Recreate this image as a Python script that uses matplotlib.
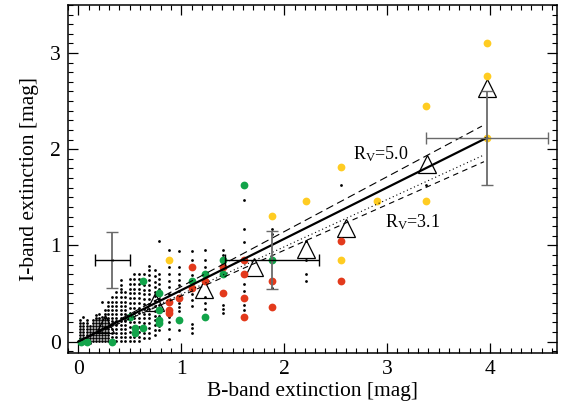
import matplotlib
matplotlib.use('Agg')
import matplotlib.pyplot as plt
from matplotlib.ticker import MultipleLocator

plt.rcParams['font.family'] = ['Liberation Serif', 'DejaVu Serif']
plt.rcParams['mathtext.fontset'] = 'custom'
plt.rcParams['mathtext.rm'] = 'Liberation Serif'
plt.rcParams['mathtext.it'] = 'Liberation Serif:italic'

# black points: one list of I values per B column
blk_cols = [0.02, 0.05, 0.08, 0.11, 0.14, 0.17, 0.20, 0.23, 0.26, 0.29,
            0.33, 0.37, 0.41, 0.455, 0.50, 0.545, 0.59, 0.64, 0.69, 0.74,
            0.78, 0.88, 0.98, 1.10, 1.23, 1.41, 1.61, 1.88, 2.21, 2.55, 3.38]
blk_vals = [
    [-0.02, 0.01, 0.04, 0.07, 0.10, 0.13, 0.16, 0.19, 0.22],
    [-0.02, 0.01, 0.04, 0.07, 0.10, 0.13, 0.16, 0.19, 0.26],
    [0.01, 0.04, 0.07, 0.10, 0.13, 0.16, 0.19, 0.22],
    [-0.02, 0.01, 0.04, 0.07, 0.10, 0.13, 0.16],
    [0.01, 0.04, 0.07, 0.10, 0.13, 0.16, 0.19, 0.22],
    [0.01, 0.04, 0.07, 0.10, 0.13, 0.16, 0.19, 0.22, 0.25, 0.28],
    [0.01, 0.04, 0.07, 0.10, 0.13, 0.16, 0.19, 0.22, 0.25, 0.29],
    [0.01, 0.04, 0.07, 0.10, 0.13, 0.16, 0.19, 0.22, 0.26, 0.41],
    [0.01, 0.04, 0.07, 0.10, 0.13, 0.16, 0.19, 0.22, 0.25, 0.29, 0.33],
    [0.01, 0.04, 0.07, 0.10, 0.13, 0.16, 0.19, 0.22, 0.25, 0.29, 0.33, 0.37, 0.41],
    [0.01, 0.05, 0.09, 0.13, 0.17, 0.21, 0.25, 0.29, 0.33, 0.37, 0.41, 0.46, 0.85],
    [0.01, 0.05, 0.09, 0.13, 0.17, 0.21, 0.25, 0.29, 0.33, 0.37, 0.41, 0.46, 0.51],
    [0.01, 0.05, 0.09, 0.13, 0.17, 0.21, 0.25, 0.29, 0.33, 0.37, 0.41, 0.46, 0.51, 0.55, 0.59, 0.64],
    [0.01, 0.05, 0.09, 0.13, 0.17, 0.21, 0.25, 0.29, 0.33, 0.37, 0.41, 0.46, 0.51],
    [0.01, 0.05, 0.10, 0.15, 0.20, 0.25, 0.30, 0.35, 0.40, 0.45, 0.50, 0.55, 0.60, 0.65],
    [0.01, 0.05, 0.10, 0.15, 0.20, 0.25, 0.30, 0.35, 0.40, 0.45, 0.50, 0.55, 0.60, 0.65, 0.70],
    [0.01, 0.05, 0.10, 0.15, 0.20, 0.25, 0.30, 0.35, 0.40, 0.45, 0.50, 0.55, 0.60, 0.65, 0.70],
    [0.04, 0.09, 0.14, 0.19, 0.24, 0.29, 0.34, 0.39, 0.44, 0.49, 0.54, 0.59, 0.64, 0.70],
    [0.04, 0.09, 0.14, 0.19, 0.24, 0.29, 0.34, 0.39, 0.44, 0.49, 0.54, 0.59, 0.64, 0.69, 0.74, 0.79],
    [0.07, 0.12, 0.17, 0.22, 0.27, 0.32, 0.37, 0.42, 0.47, 0.52, 0.57, 0.62, 0.68, 0.74],
    [0.12, 0.16, 0.27, 0.38, 0.44, 0.55, 0.60, 0.65, 0.70, 1.05],
    [0.03, 0.13, 0.20, 0.26, 0.49, 0.57, 0.63, 0.70, 0.77, 0.95],
    [0.12, 0.32, 0.36, 0.40, 0.53, 0.59, 0.64, 0.70, 0.77, 0.94],
    [0.09, 0.14, 0.18, 0.37, 0.43, 0.49, 0.69, 0.85, 0.94],
    [0.34, 0.40, 0.46, 0.77, 0.85, 0.95],
    [0.30, 0.34, 0.38, 0.90, 0.95],
    [0.33, 0.375, 0.53, 0.60, 1.04, 1.17, 1.47],
    [0.56, 1.12, 1.17],
    [0.63, 0.70, 0.85, 1.045],
    [1.63],
    [1.63],
]

yel_x = [0.88, 1.88, 2.21, 2.55, 2.55, 2.90, 3.38, 3.38, 3.97, 3.97, 3.97]
yel_y = [0.85, 1.31, 1.46, 1.82, 0.85, 1.46, 2.45, 1.46, 3.10, 2.76, 2.12]

red_x = [0.88, 0.88, 0.88, 0.98, 1.10, 1.10, 1.23, 1.41, 1.41,
         1.61, 1.61, 1.61, 1.61, 1.88, 1.88, 2.55, 2.55]
red_y = [0.41, 0.33, 0.30, 0.45, 0.77, 0.56, 0.63, 0.77, 0.50,
         0.85, 0.70, 0.45, 0.26, 0.63, 0.36, 1.045, 0.625]

grn_x = [0.03, 0.08, 0.33, 0.50, 0.55, 0.55, 0.63, 0.63, 0.78, 0.78,
         0.78, 0.78, 0.98, 1.10, 1.23, 1.23, 1.41, 1.41, 1.61, 1.88]
grn_y = [0.0, 0.0, 0.0, 0.26, 0.14, 0.09, 0.63, 0.14, 0.50, 0.33,
         0.225, 0.19, 0.225, 0.63, 0.70, 0.26, 0.85, 0.70, 1.63, 0.85]

# binned means
tri_x = [0.26, 0.74, 1.22, 1.71, 2.21, 2.60, 3.39, 3.97]
tri_y = [0.18, 0.41, 0.55, 0.78, 0.96, 1.18, 1.85, 2.64]

# error crosses
err_x = [0.33, 1.88, 3.97]
err_y = [0.85, 0.85, 2.12]
err_dx = [0.17, 0.46, 0.59]
err_dy = [0.29, 0.30, 0.49]

# reddening lines (start and end points)
fit_x = [0.0, 3.97]
fit_y = [0.0, 2.12]
rv50_x = [0.0, 3.92]
rv50_y = [0.0, 2.24]
rv31a_x = [0.0, 3.94]
rv31a_y = [0.0, 1.94]
rv31b_x = [0.0, 3.94]
rv31b_y = [0.0, 1.87]

fig = plt.figure(figsize=(5.74, 4.12), dpi=100)
ax = fig.add_axes([0.1185, 0.143, 0.852, 0.845])

# triangles go underneath the points
ax.plot(tri_x, tri_y, '^', markersize=13, markerfacecolor='none',
        markeredgecolor='black', markeredgewidth=0.9, zorder=1)

bx = []
by = []
for xc, ys in zip(blk_cols, blk_vals):
    for yv in ys:
        bx.append(xc)
        by.append(yv)
ax.plot(bx, by, 'o', color='black', markersize=2.0, markeredgewidth=0, zorder=2)

ax.plot(yel_x, yel_y, 'o', color='#FFCC22', markersize=5.6, markeredgewidth=0, zorder=3)
ax.plot(red_x, red_y, 'o', color='#E33A1C', markersize=5.6, markeredgewidth=0, zorder=3)
ax.plot(grn_x, grn_y, 'o', color='#12A44A', markersize=5.6, markeredgewidth=0, zorder=3)

ax.plot(fit_x, fit_y, '-', color='black', linewidth=1.6, zorder=4)
ax.plot(rv50_x, rv50_y, color='black', linewidth=0.8, dashes=(7, 4), zorder=4)
ax.plot(rv31a_x, rv31a_y, color='black', linewidth=0.8, dashes=(1, 2.5), zorder=4)
ax.plot(rv31b_x, rv31b_y, color='black', linewidth=0.8, dashes=(5, 4), zorder=4)

for i in range(len(err_x)):
    ax.errorbar(err_x[i], err_y[i], yerr=err_dy[i], fmt='none', ecolor='#6a6a6a',
                elinewidth=1.3, capsize=4, capthick=1.0, zorder=5)
    ax.errorbar(err_x[i], err_y[i], xerr=err_dx[i], fmt='none',
                ecolor='black' if i < 2 else '#6a6a6a',
                elinewidth=1.0, capsize=4, capthick=1.0, zorder=5)

ax.text(2.67, 1.89, r'R$_\mathrm{V}$=5.0', fontsize=13)
ax.text(2.98, 1.24, r'R$_\mathrm{V}$=3.1', fontsize=13, va='center')

ax.set_xlim(-0.1, 4.65)
ax.set_ylim(-0.12, 3.5)
ax.xaxis.set_major_locator(MultipleLocator(1))
ax.xaxis.set_minor_locator(MultipleLocator(0.1))
ax.yaxis.set_major_locator(MultipleLocator(1))
ax.yaxis.set_minor_locator(MultipleLocator(0.1))
ax.tick_params(which='both', direction='in', top=True, right=True, labelsize=15.5)
ax.tick_params(which='major', length=7.5, width=0.9, pad=5)
ax.tick_params(which='minor', length=3.8, width=0.8)
for s in ax.spines.values():
    s.set_linewidth(1.1)

ax.set_xlabel('B-band extinction [mag]', fontsize=15.5, labelpad=2)
ax.set_ylabel('I-band extinction [mag]', fontsize=15.5, labelpad=8)

fig.savefig('out.png', dpi=100)
